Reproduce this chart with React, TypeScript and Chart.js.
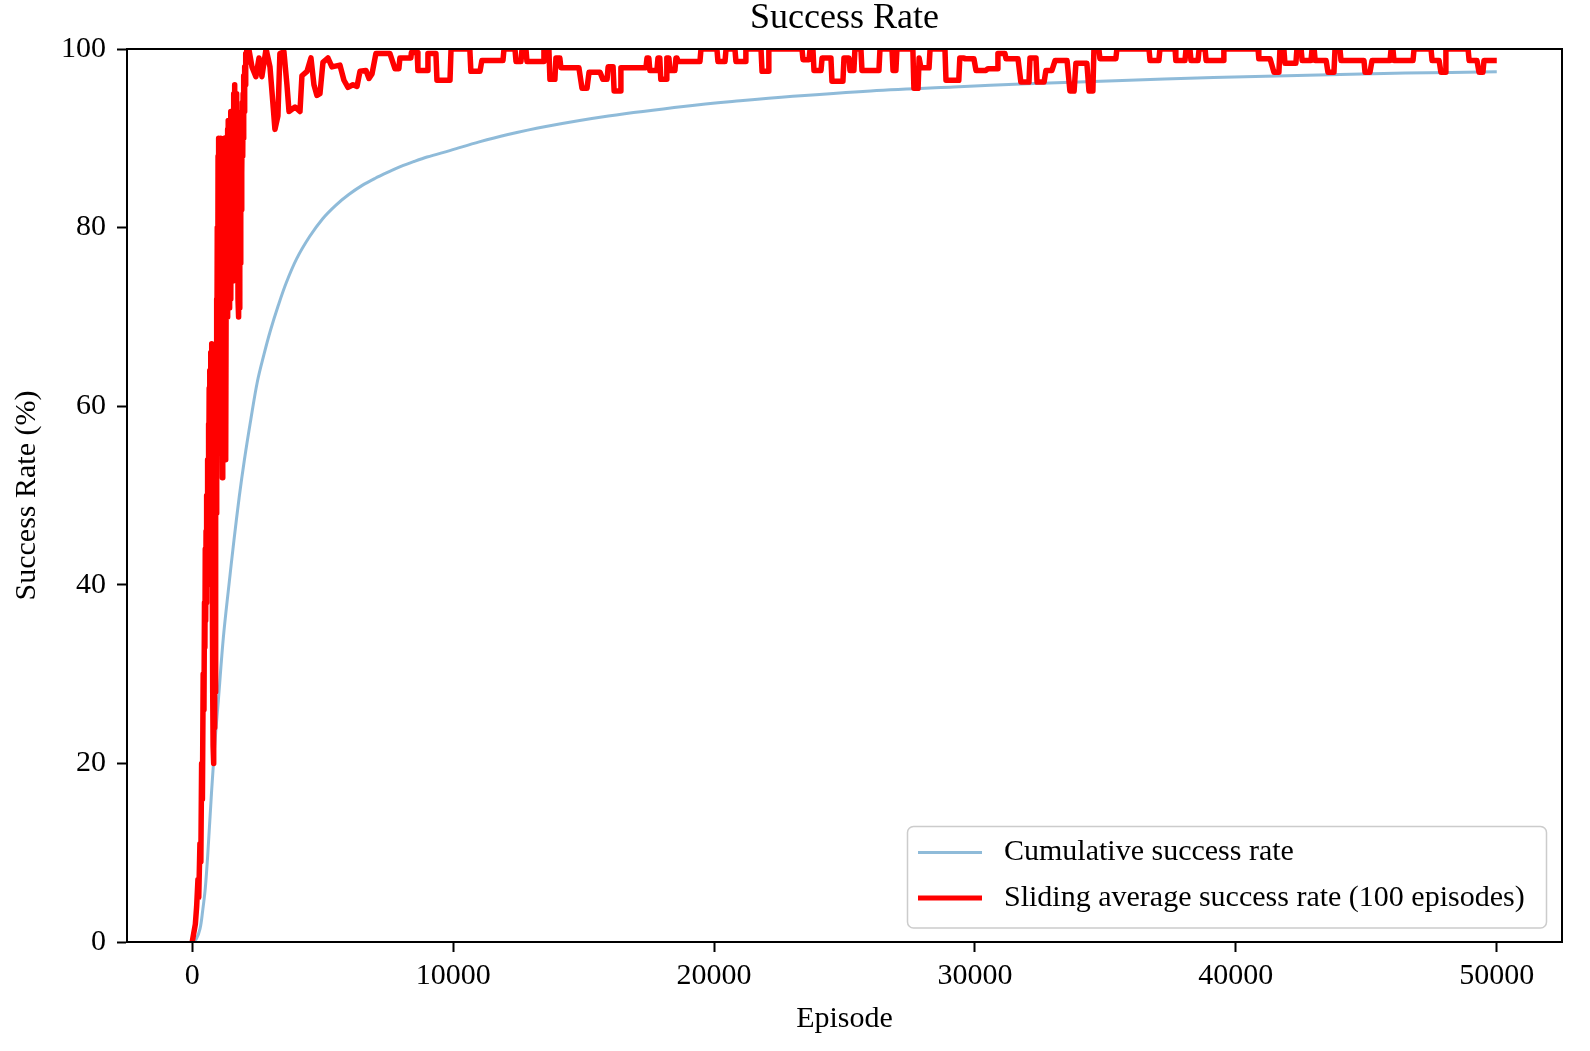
import { useEffect, useRef } from "react";
import { Chart, registerables } from "chart.js";
import type { ChartConfiguration, Plugin } from "chart.js";

Chart.register(...registerables);

const SERIF = '"Liberation Serif", "Times New Roman", serif';

const chartTitle = "Success Rate";
const xTitle = "Episode";
const yTitle = "Success Rate (%)";
const xTicks = [0, 10000, 20000, 30000, 40000, 50000];
const seriesNames = ["Cumulative success rate", "Sliding average success rate (100 episodes)"];

// cumulative success rate (light blue curve)
const cumulativeEpisodes = [
  0, 150, 300, 400, 500, 600, 745, 900, 1000, 1190,
  1400, 1600, 1800, 2000, 2250, 2500, 2750, 3000, 3300, 3600,
  4000, 4500, 5000, 5500, 6000, 6500, 7000, 7500, 8000, 8500,
  9000, 9900, 11000, 12060, 13500, 15950, 18910, 21000, 23020, 26000,
  29180, 32000, 35380, 39140, 43160, 46500, 50000,
];
const cumulativeRate = [
  0, 0.3, 1.5, 3.5, 6, 10, 17, 23.5, 27, 34,
  39.8, 45, 49.8, 54, 58.6, 62.8, 65.8, 68.5, 71.3, 73.8,
  76.5, 79, 81, 82.5, 83.7, 84.7, 85.5, 86.2, 86.85, 87.4,
  87.9, 88.65, 89.6, 90.4, 91.3, 92.5, 93.6, 94.2, 94.7, 95.3,
  95.75, 96.1, 96.45, 96.8, 97.1, 97.3, 97.45,
];

// sliding average over 100 episodes (red curve)
const slidingEpisodes = [
  0, 60, 120, 170, 220, 250, 295, 330, 360, 390,
  420, 450, 470, 485, 500, 515, 530, 545, 560, 575,
  590, 605, 620, 635, 650, 665, 680, 695, 710, 725,
  740, 755, 770, 785, 800, 815, 830, 845, 860, 875,
  890, 905, 915, 930, 945, 960, 975, 990, 1005, 1020,
  1035, 1050, 1065, 1080, 1095, 1110, 1125, 1140, 1155, 1170,
  1185, 1200, 1215, 1230, 1245, 1260, 1275, 1290, 1305, 1320,
  1335, 1350, 1365, 1380, 1395, 1410, 1425, 1440, 1455, 1470,
  1485, 1500, 1515, 1530, 1545, 1560, 1575, 1590, 1605, 1620,
  1635, 1650, 1665, 1680, 1695, 1710, 1725, 1740, 1755, 1770,
  1785, 1800, 1815, 1830, 1845, 1860, 1875, 1890, 1905, 1920,
  1935, 1950, 1965, 1980, 1995, 2010, 2030, 2050, 2070, 2090,
  2110,
  2170, 2290, 2440, 2560, 2670, 2830, 2980, 3090, 3170, 3285,
  3360, 3515, 3630, 3710, 3940, 4130, 4205, 4400, 4550, 4665,
  4780, 4895, 5010, 5200, 5355, 5660, 5815, 5970, 6160, 6315,
  6430, 6660, 6775, 6890, 7040, 7575, 7770, 7920,
  7960, 8380, 8400, 8620, 8650, 9000, 9034, 9340, 9380, 9880,
  9920, 10640, 10680, 11030, 11100, 11910, 11950, 12370, 12410, 12600,
  12640, 12790, 12830, 13450, 13480, 13670, 13710, 13900, 13940, 14090,
  14130, 14820, 14940, 15130, 15210, 15630, 15740, 15900, 15940, 16130,
  16170, 16400, 16430, 17390, 17430, 17500, 17540, 17810, 17850, 17920,
  17960, 18160, 18190, 18270, 18310, 18500, 18540, 18580, 18620, 19460,
  19500, 20110, 20150, 20420, 20460, 20800, 20840, 21190, 21220, 21800,
  21840, 22070, 22100, 23370, 23410, 23640, 23680, 23790, 23830, 24100,
  24140, 24480, 24520, 24940, 24980, 25170, 25210, 25360, 25400, 25630,
  25670, 26320, 26360, 26820, 26860, 26970, 27010, 27620, 27660, 27820,
  27860, 27890, 27930, 28240, 28280, 28850, 28890, 29380, 29420, 29580,
  29620, 29960, 30040, 30420, 30500, 30850, 30880, 31150, 31190, 31650,
  31760, 32070, 32110, 32340, 32380, 32650, 32720, 32950, 33070, 33530,
  33640, 33800, 33870, 34290, 34370, 34520, 34560, 34750, 34790, 35400,
  35440, 36670, 36710, 37050, 37090, 37670, 37700, 38050, 38090, 38240,
  38280, 38550, 38590, 38820, 38860, 39510, 39540, 40850, 40880, 41310,
  41460, 41650, 41690, 41840, 41880, 42300, 42340, 42500, 42540, 42880,
  42920, 43000, 43040, 43460, 43530, 43760, 43800, 43990, 44030, 44910,
  44950, 45140, 45220, 45910, 45950, 46020, 46060, 46790, 46830, 47480,
  47520, 47790, 47860, 48020, 48050, 48900, 48940, 49240, 49320, 49470,
  49510, 50000,
];
const slidingRate = [
  0, 1, 2, 4, 7, 5, 11, 9, 20, 16,
  30, 26, 38, 33, 44, 36, 46, 38, 50, 40,
  54, 44, 58, 48, 62, 50, 64, 52, 66, 56,
  67, 58, 40, 28, 22, 20, 30, 24, 36, 28,
  50, 62, 48, 72, 58, 80, 64, 88, 72, 90,
  74, 86, 70, 90, 72, 88, 68, 62, 52, 56,
  70, 88, 72, 90, 70, 84, 60, 54, 78, 90,
  72, 91, 70, 92, 74, 90, 71, 92, 73, 93,
  72, 91, 75, 93, 74, 92, 78, 95, 80, 96,
  82, 94, 78, 95, 80, 92, 76, 90, 72, 88,
  70, 86, 71, 84, 76, 90, 82, 93, 86, 94,
  88, 95, 90, 97, 93, 98, 96, 99.5, 98.5, 100,
  100,
  100, 98, 96.9, 99, 96.9, 100, 98, 94, 91, 92.5,
  99.5, 99.7, 96, 93, 93.5, 93, 97, 97.5, 99, 96,
  94.8, 95, 98.5, 99, 98, 98.2, 96.5, 95.7, 96, 95.8,
  97.5, 97.6, 96.7, 97.2, 99.5, 99.5, 97.8, 97.8,
  99, 99, 99.6, 99.6, 97.6, 97.6, 99.5, 99.5, 96.5, 96.5,
  100, 100, 97.5, 97.5, 98.7, 98.7, 100, 100, 98.6, 98.6,
  100, 100, 98.6, 98.6, 100, 100, 96.6, 96.6, 99, 99,
  97.9, 97.9, 95.6, 95.6, 97.4, 97.4, 96.6, 96.6, 98, 98,
  95.3, 95.3, 97.9, 97.9, 99, 99, 97.6, 97.6, 99, 99,
  96.6, 96.6, 99, 99, 97.6, 97.6, 99, 99, 98.6, 98.6,
  100, 100, 98.6, 98.6, 100, 100, 98.6, 98.6, 100, 100,
  97.5, 97.5, 100, 100, 98.8, 98.8, 100, 100, 97.6, 97.6,
  99, 99, 96.4, 96.4, 99, 99, 97.6, 97.6, 100, 100,
  97.6, 97.6, 100, 100, 97.6, 97.6, 100, 100, 95.6, 95.6,
  99, 99, 97.9, 97.9, 100, 100, 96.5, 96.5, 99, 99,
  98.9, 98.9, 97.6, 97.6, 97.8, 97.8, 99.5, 99.5, 98.9, 98.9,
  96.3, 96.3, 99, 99, 96.3, 96.3, 97.6, 97.6, 98.7, 98.7,
  95.3, 95.3, 98.4, 98.4, 95.3, 95.3, 100, 100, 98.9, 98.9,
  100, 100, 98.7, 98.7, 100, 100, 98.7, 98.7, 100, 100,
  98.7, 98.7, 100, 100, 98.7, 98.7, 100, 100, 98.9, 98.9,
  97.4, 97.4, 100, 100, 98.4, 98.4, 100, 100, 98.7, 98.7,
  100, 100, 98.7, 98.7, 97.4, 97.4, 100, 100, 98.7, 98.7,
  97.4, 97.4, 98.7, 98.7, 100, 100, 98.7, 98.7, 100, 100,
  98.7, 98.7, 97.4, 97.4, 100, 100, 98.7, 98.7, 97.4, 97.4,
  98.7, 98.7,
];

const BLUE = "rgba(31, 119, 180, 0.5)";
const RED = "#ff0000";

// frame on top of the lines, title above, legend box in the lower right
const decorations: Plugin = {
  id: "decorations",
  afterDatasetsDraw(chart) {
    const { ctx, chartArea: a } = chart;
    ctx.save();
    ctx.strokeStyle = "#000";
    ctx.lineWidth = 2;
    ctx.strokeRect(a.left, a.top, a.right - a.left, a.bottom - a.top);
    ctx.restore();
  },
  afterDraw(chart) {
    const { ctx, chartArea: a } = chart;
    ctx.save();
    ctx.fillStyle = "#000";
    ctx.font = `36px ${SERIF}`;
    ctx.textAlign = "center";
    ctx.textBaseline = "middle";
    ctx.fillText(chartTitle, (a.left + a.right) / 2, 19);

    const bx = 907.5, by = 826.5, bw = 639, bh = 101.5;
    ctx.beginPath();
    ctx.roundRect(bx, by, bw, bh, 6);
    ctx.fillStyle = "rgba(255,255,255,0.8)";
    ctx.fill();
    ctx.strokeStyle = "#cccccc";
    ctx.lineWidth = 1.5;
    ctx.stroke();

    const rows = [
      { y: 852.5, color: BLUE, width: 3 },
      { y: 898, color: RED, width: 5 },
    ];
    ctx.font = `30px ${SERIF}`;
    ctx.textAlign = "left";
    rows.forEach((r, i) => {
      ctx.beginPath();
      ctx.moveTo(918, r.y);
      ctx.lineTo(982, r.y);
      ctx.strokeStyle = r.color;
      ctx.lineWidth = r.width;
      ctx.stroke();
      ctx.fillStyle = "#000";
      ctx.fillText(seriesNames[i], 1004, r.y);
    });
    ctx.restore();
  },
};

function SuccessRateChart() {
  const canvasRef = useRef<HTMLCanvasElement>(null);
  const chartRef = useRef<Chart | null>(null);

  useEffect(() => {
    if (!canvasRef.current) return;
    const tickFont = { family: SERIF, size: 30 };

    const config: ChartConfiguration<"line"> = {
      type: "line",
      data: {
        datasets: [
          {
            label: seriesNames[0],
            data: cumulativeEpisodes.map((e, i) => ({ x: e, y: cumulativeRate[i] })),
            borderColor: BLUE,
            borderWidth: 3,
            pointRadius: 0,
            tension: 0.35,
            clip: 0,
            order: 1,
          },
          {
            label: seriesNames[1],
            data: slidingEpisodes.map((e, i) => ({ x: e, y: slidingRate[i] })),
            borderColor: RED,
            borderWidth: 5.5,
            pointRadius: 0,
            tension: 0,
            borderJoinStyle: "round",
            clip: 0,
            order: 0,
          },
        ],
      },
      options: {
        responsive: false,
        animation: false,
        devicePixelRatio: 1,
        layout: { padding: { left: 0, right: 28, top: 49, bottom: 0 } },
        plugins: {
          legend: { display: false },
          title: { display: false },
          tooltip: { enabled: false },
        },
        scales: {
          x: {
            type: "linear",
            min: -2500,
            max: 52500,
            afterBuildTicks: (s) => {
              s.ticks = xTicks.map((v) => ({ value: v }));
            },
            afterFit: (s) => {
              s.height = 109;
            },
            ticks: {
              callback: (v) => String(v),
              font: tickFont,
              color: "#000",
              padding: 6,
              maxRotation: 0,
              autoSkip: false,
            },
            grid: { drawOnChartArea: false, drawTicks: true, tickLength: 10, tickWidth: 2, tickColor: "#000" },
            border: { display: true, color: "#000", width: 2 },
            title: { display: true, text: xTitle, font: tickFont, color: "#000", padding: { top: 0, bottom: 14 } },
          },
          y: {
            type: "linear",
            min: 0,
            max: 100,
            afterFit: (s) => {
              s.width = 127;
            },
            ticks: { stepSize: 20, font: tickFont, color: "#000", padding: 11 },
            grid: { drawOnChartArea: false, drawTicks: true, tickLength: 10, tickWidth: 2, tickColor: "#000" },
            border: { display: true, color: "#000", width: 2 },
            title: { display: true, text: yTitle, font: tickFont, color: "#000", padding: { top: 9, bottom: 0 } },
          },
        },
      },
      plugins: [decorations],
    };

    chartRef.current?.destroy();
    chartRef.current = new Chart(canvasRef.current, config);
    return () => {
      chartRef.current?.destroy();
      chartRef.current = null;
    };
  }, []);

  return <canvas ref={canvasRef} width={1590} height={1051} style={{ display: "block" }} />;
}

export default function App() {
  useEffect(() => {
    document.body.style.margin = "0";
    document.body.style.background = "#fff";
  }, []);
  return (
    <div style={{ width: 1590, height: 1051, background: "#fff" }}>
      <SuccessRateChart />
    </div>
  );
}
